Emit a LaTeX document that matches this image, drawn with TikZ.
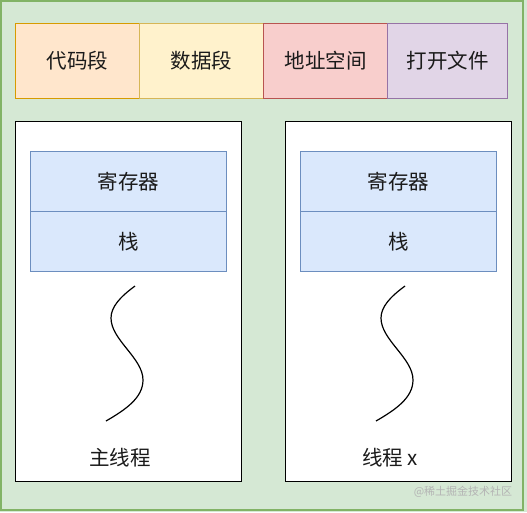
\documentclass[tikz,border=0pt]{standalone}
\usepackage{fontspec}
\setmainfont{Noto Sans CJK SC}
\definecolor{bgfill}{HTML}{D5E8D4}
\definecolor{bgline}{HTML}{82B366}
\definecolor{orfill}{HTML}{FFE6CC}
\definecolor{orline}{HTML}{D79B00}
\definecolor{yefill}{HTML}{FFF2CC}
\definecolor{yeline}{HTML}{D6B656}
\definecolor{rdfill}{HTML}{F8CECC}
\definecolor{rdline}{HTML}{B85450}
\definecolor{pufill}{HTML}{E1D5E7}
\definecolor{puline}{HTML}{9673A6}
\definecolor{blfill}{HTML}{DAE8FC}
\definecolor{blline}{HTML}{6C8EBF}
\definecolor{wmark}{HTML}{B4B4B4}
\definecolor{txt}{HTML}{1A1A1A}
\tikzset{
  seg/.style={draw, line width=1pt, minimum height=75pt, inner sep=0pt, anchor=north west, text=txt, font=\fontsize{20.5}{24}\selectfont},
  thread/.style={draw=black, fill=white, line width=1pt, minimum width=226pt, minimum height=360pt, inner sep=0pt, anchor=north west},
  regbox/.style={draw=blline, fill=blfill, line width=1pt, minimum width=196pt, minimum height=60pt, inner sep=0pt, anchor=north west, text=txt, font=\fontsize{20.5}{24}\selectfont},
  lbl/.style={font=\fontsize{20.5}{24}\selectfont, text=txt, inner sep=0pt},
  squig/.style={line width=1.2pt, black}
}
\begin{document}
\begin{tikzpicture}[x=1pt,y=-1pt]
\useasboundingbox (0,0) rectangle (527,512);
\fill[bgfill] (0,0) rectangle (527,512);
\draw[bgline, line width=1.2pt, fill=bgfill] (1,1) rectangle (523,510);
% top segments
\node[seg, draw=orline, fill=orfill, minimum width=124pt] (code) at (15,23) {代码段};
\node[seg, draw=yeline, fill=yefill, minimum width=124pt] (data) at (139,23) {数据段};
\node[seg, draw=rdline, fill=rdfill, minimum width=124pt] (addr) at (263,23) {地址空间};
\node[seg, draw=puline, fill=pufill, minimum width=120pt] (file) at (387,23) {打开文件};
% threads
\node[thread] (t1) at (15,121) {};
\node[thread] (t2) at (285,121) {};
\node[regbox] (reg1) at (30,151) {寄存器};
\node[regbox] (stk1) at (30,211) {栈};
\node[regbox] (reg2) at (300,151) {寄存器};
\node[regbox] (stk2) at (300,211) {栈};
% squiggles
\coordinate (s1a) at (135,286);
\coordinate (s1b) at (106,421);
\coordinate (s2a) at (405,286);
\coordinate (s2b) at (376,421);
\draw[squig] (s1a) .. controls (120,297) and (111,307) .. (111,318) .. controls (111,340) and (143,358) .. (143,380) .. controls (143,398) and (125,410) .. (s1b);
\draw[squig] (s2a) .. controls (390,297) and (381,307) .. (381,318) .. controls (381,340) and (413,358) .. (413,380) .. controls (413,398) and (395,410) .. (s2b);
% labels
\node[lbl] (n1) at (120,458) {主线程};
\node[lbl] (n2) at (390,458) {线程 x};
\node[font=\fontsize{11}{13}\selectfont, text=wmark, inner sep=0pt] (wm) at (463,492) {@稀土掘金技术社区};
\end{tikzpicture}
\end{document}
